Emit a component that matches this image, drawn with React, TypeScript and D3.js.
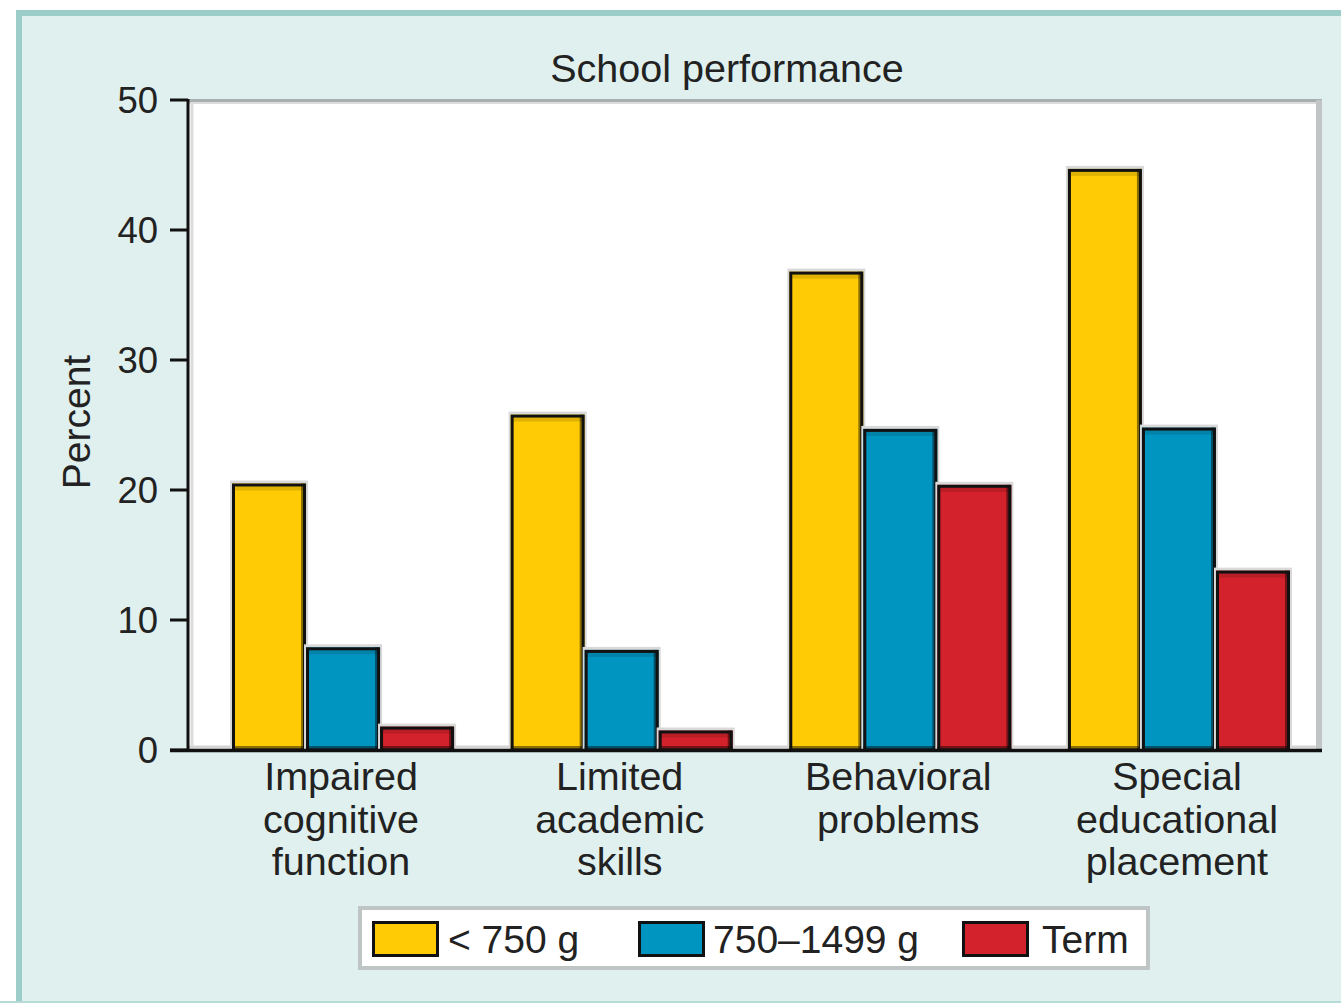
import React from "react";
import * as d3 from "d3";

const categories = ["Impaired cognitive function", "Limited academic skills", "Behavioral problems", "Special educational placement"];
const categoryLines = [
  ["Impaired", "cognitive", "function"],
  ["Limited", "academic", "skills"],
  ["Behavioral", "problems"],
  ["Special", "educational", "placement"],
];
const seriesNames = ["< 750 g", "750\u20131499 g", "Term"];
const under750 = [20.5, 25.8, 36.8, 44.7];
const from750to1499 = [7.9, 7.7, 24.7, 24.8];
const term = [1.8, 1.5, 20.4, 13.8];
const seriesColors = ["#ffcb05", "#0094c1", "#d3222b"];
const yTicks = [0, 10, 20, 30, 40, 50];
const title = "School performance";
const yLabel = "Percent";

const FONT = "'Liberation Sans', Arial, Helvetica, sans-serif";

export default function App() {
  const W = 1341, H = 1003;
  const plot = { left: 188, right: 1316, top: 100, bottom: 750 };
  const y = d3.scaleLinear().domain([0, 50]).range([plot.bottom, plot.top]);
  const x0 = d3.scaleBand<string>().domain(categories).range([232, 1290]).paddingInner(0.203).paddingOuter(0);
  const x1 = d3.scaleBand<string>().domain(seriesNames).range([0, x0.bandwidth()]).padding(0);
  const allSeries = [under750, from750to1499, term];

  const legendItems = [
    { sx: 372, tx: 448 },
    { sx: 638, tx: 713 },
    { sx: 962, tx: 1042 },
  ];

  return (
    <div style={{ position: "absolute", left: 0, top: 0 }}>
      <svg width={W} height={H} style={{ display: "block" }} fontFamily={FONT}>
        <rect x={0} y={0} width={W} height={H} fill="#ffffff" />
        {/* outer frame */}
        <rect x={19} y={13} width={W + 10} height={H - 13 + 10} fill="#dff0ee" stroke="#9ccdc9" strokeWidth={6} />
        <line x1={0} x2={W} y1={1002} y2={1002} stroke="#b5dbd6" strokeWidth={2} />

        {/* plot area */}
        <rect x={plot.left} y={plot.top} width={plot.right - plot.left} height={plot.bottom - plot.top} fill="#ffffff" />
        <line x1={plot.left} x2={plot.right + 6} y1={plot.top + 0.5} y2={plot.top + 0.5} stroke="#a9afb0" strokeWidth={3} />
        <line x1={plot.left} x2={plot.right} y1={plot.top + 3} y2={plot.top + 3} stroke="#dcdcdc" strokeWidth={2} />
        <line x1={plot.right + 3} x2={plot.right + 3} y1={plot.top} y2={plot.bottom + 2} stroke="#c1c5c5" strokeWidth={6} />
        <line x1={plot.left + 4} x2={plot.left + 4} y1={plot.top + 2} y2={plot.bottom} stroke="#dcdcdc" strokeWidth={3} />
        <line x1={plot.left} x2={plot.right} y1={plot.bottom - 3} y2={plot.bottom - 3} stroke="#d4d4d4" strokeWidth={3} />

        {/* bars */}
        {categories.map((c, ci) => (
          <g key={c} transform={`translate(${x0(c)},0)`}>
            {seriesNames.map((s, si) => {
              const v = allSeries[si][ci];
              const bx = x1(s)!;
              const bw = x1.bandwidth();
              const by = y(v);
              const bh = y(0) - by;
              return (
                <g key={s}>
                  <rect x={bx - 2} y={by - 3} width={bw + 4} height={bh + 3} fill="#d9d9d9" />
                  <rect x={bx} y={by} width={bw} height={bh} fill={seriesColors[si]} />
                  <rect x={bx + bw - 5} y={by} width={4} height={bh} fill="rgba(0,0,0,0.45)" />
                  <rect x={bx} y={y(0) - 4} width={bw} height={4} fill="rgba(0,0,0,0.45)" />
                  <rect x={bx} y={by + 3} width={bw} height={4} fill="rgba(0,0,0,0.12)" />
                  <rect x={bx + 1.5} y={by + 1.5} width={bw - 3} height={bh - 1.5} fill="none" stroke="#111" strokeWidth={3} />
                </g>
              );
            })}
          </g>
        ))}

        {/* axes */}
        <line x1={plot.left} x2={plot.left} y1={plot.top - 1} y2={plot.bottom} stroke="#111" strokeWidth={3} />
        <line x1={170} x2={plot.right + 6} y1={plot.bottom + 0.5} y2={plot.bottom + 0.5} stroke="#111" strokeWidth={3.5} />
        {yTicks.map((t) => (
          <g key={t}>
            <line x1={170} x2={plot.left} y1={y(t)} y2={y(t)} stroke="#111" strokeWidth={3} />
            <text x={158} y={y(t)} dy="0.36em" textAnchor="end" fontSize={36.5} fill="#222">{t}</text>
          </g>
        ))}

        {/* category labels */}
        {categories.map((c, ci) => (
          <text key={c} x={x0(c)! + x0.bandwidth() / 2} y={790} textAnchor="middle" fontSize={39.5} fill="#222">
            {categoryLines[ci].map((ln, li) => (
              <tspan key={li} x={x0(c)! + x0.bandwidth() / 2 - 2} y={790 + li * 42.5}>{ln}</tspan>
            ))}
          </text>
        ))}

        {/* title */}
        <text x={727} y={82} textAnchor="middle" fontSize={39.5} fill="#222">{title}</text>

        {/* y label */}
        <text transform="translate(90,422) rotate(-90)" textAnchor="middle" fontSize={39} fill="#222">{yLabel}</text>

        {/* legend */}
        <rect x={360} y={908} width={788} height={60} fill="#ffffff" stroke="#bfc4c4" strokeWidth={4} />
        {seriesNames.map((s, si) => (
          <g key={s}>
            <rect x={legendItems[si].sx} y={921} width={67} height={36} fill="#888" />
            <rect x={legendItems[si].sx + 1.5} y={922.5} width={64} height={33} fill={seriesColors[si]} stroke="#111" strokeWidth={3} />
            <text x={legendItems[si].tx} y={953} fontSize={39} fill="#222">{s}</text>
          </g>
        ))}
      </svg>
    </div>
  );
}
